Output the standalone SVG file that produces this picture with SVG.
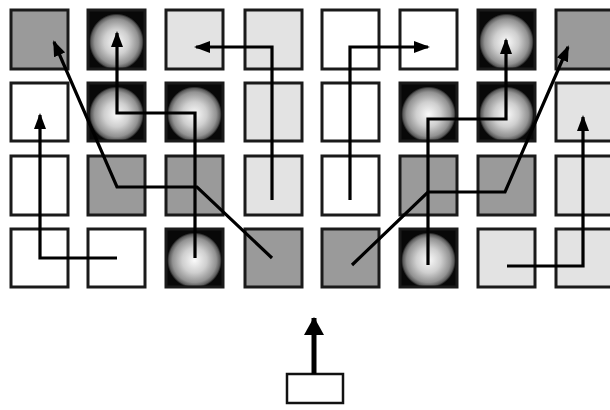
<svg xmlns="http://www.w3.org/2000/svg" width="610" height="410" viewBox="0 0 610 410">
<style>
.c{stroke:#1a1a1a;stroke-width:3}
.w{fill:#ffffff}
.l{fill:#e3e3e3}
.d{fill:#9a9a9a}
.s{fill:url(#sph)}
.e{fill:none;stroke:#000;stroke-width:3.2;stroke-linejoin:miter}
</style>
<defs>
<radialGradient id="sph" cx="50%" cy="54%" r="48%">
<stop offset="0" stop-color="#fafafa"/>
<stop offset="0.45" stop-color="#cfcfcf"/>
<stop offset="0.8" stop-color="#929292"/>
<stop offset="0.93" stop-color="#5a5a5a"/>
<stop offset="1" stop-color="#080808"/>
</radialGradient>
<marker id="ah" markerUnits="userSpaceOnUse" markerWidth="16" markerHeight="12" refX="14" refY="6" orient="auto">
<path d="M0,0 L16,6 L0,12 z" fill="#000"/>
</marker>
<marker id="ahb" markerUnits="userSpaceOnUse" markerWidth="20" markerHeight="20" refX="17" refY="10" orient="auto">
<path d="M0,0 L18,10 L0,20 z" fill="#000"/>
</marker>
</defs>
<g id="r0c0"><rect class="c d" x="11" y="10" width="57" height="59"/></g>
<g id="r0c1"><rect class="c s" x="88" y="10" width="57" height="59"/></g>
<g id="r0c2"><rect class="c l" x="166" y="10" width="57" height="59"/></g>
<g id="r0c3"><rect class="c l" x="245" y="10" width="57" height="59"/></g>
<g id="r0c4"><rect class="c w" x="322" y="10" width="57" height="59"/></g>
<g id="r0c5"><rect class="c w" x="400" y="10" width="57" height="59"/></g>
<g id="r0c6"><rect class="c s" x="478" y="10" width="57" height="59"/></g>
<g id="r0c7"><rect class="c d" x="556" y="10" width="57" height="59"/></g>
<g id="r1c0"><rect class="c w" x="11" y="83" width="57" height="58"/></g>
<g id="r1c1"><rect class="c s" x="88" y="83" width="57" height="58"/></g>
<g id="r1c2"><rect class="c s" x="166" y="83" width="57" height="58"/></g>
<g id="r1c3"><rect class="c l" x="245" y="83" width="57" height="58"/></g>
<g id="r1c4"><rect class="c w" x="322" y="83" width="57" height="58"/></g>
<g id="r1c5"><rect class="c s" x="400" y="83" width="57" height="58"/></g>
<g id="r1c6"><rect class="c s" x="478" y="83" width="57" height="58"/></g>
<g id="r1c7"><rect class="c l" x="556" y="83" width="57" height="58"/></g>
<g id="r2c0"><rect class="c w" x="11" y="156" width="57" height="59"/></g>
<g id="r2c1"><rect class="c d" x="88" y="156" width="57" height="59"/></g>
<g id="r2c2"><rect class="c d" x="166" y="156" width="57" height="59"/></g>
<g id="r2c3"><rect class="c l" x="245" y="156" width="57" height="59"/></g>
<g id="r2c4"><rect class="c w" x="322" y="156" width="57" height="59"/></g>
<g id="r2c5"><rect class="c d" x="400" y="156" width="57" height="59"/></g>
<g id="r2c6"><rect class="c d" x="478" y="156" width="57" height="59"/></g>
<g id="r2c7"><rect class="c l" x="556" y="156" width="57" height="59"/></g>
<g id="r3c0"><rect class="c w" x="11" y="229" width="57" height="58"/></g>
<g id="r3c1"><rect class="c w" x="88" y="229" width="57" height="58"/></g>
<g id="r3c2"><rect class="c s" x="166" y="229" width="57" height="58"/></g>
<g id="r3c3"><rect class="c d" x="245" y="229" width="57" height="58"/></g>
<g id="r3c4"><rect class="c d" x="322" y="229" width="57" height="58"/></g>
<g id="r3c5"><rect class="c s" x="400" y="229" width="57" height="58"/></g>
<g id="r3c6"><rect class="c l" x="478" y="229" width="57" height="58"/></g>
<g id="r3c7"><rect class="c l" x="556" y="229" width="57" height="58"/></g>
<g id="source"><rect x="287" y="374" width="56" height="29" fill="#fff" stroke="#111" stroke-width="2.5"/></g>
<g id="connectors">
<path class="e" d="M117,258 H40 V115" marker-end="url(#ah)"/>
<path class="e" d="M272,258 L197,187 H117 L54,42" marker-end="url(#ah)"/>
<path class="e" d="M195,258 V113 H117 V33" marker-end="url(#ah)"/>
<path class="e" d="M272,200 V47 H196" marker-end="url(#ah)"/>
<path class="e" d="M350,200 V47 H428" marker-end="url(#ah)"/>
<path class="e" d="M428,265 V119 H506 V40" marker-end="url(#ah)"/>
<path class="e" d="M352,265 L428,192 H505 L568,47" marker-end="url(#ah)"/>
<path class="e" d="M507,266 H583 V117" marker-end="url(#ah)"/>
<path d="M314,374 V318" fill="none" stroke="#000" stroke-width="5" marker-end="url(#ahb)"/>
</g>
</svg>
